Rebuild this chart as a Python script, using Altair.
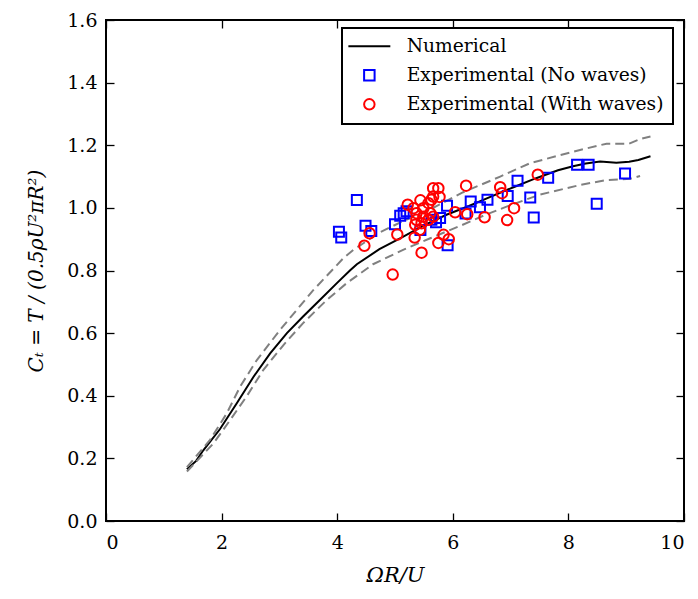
import altair as alt
import pandas as pd

# ---------------- data ----------------
num_x = [1.40, 1.56, 1.68, 1.97, 2.26, 2.55, 2.84, 3.13, 3.41, 3.70, 3.99, 4.22, 4.34,
         4.73, 5.12, 5.50, 5.89, 6.28, 6.66, 7.05, 7.43, 7.82, 8.08, 8.30, 8.55, 8.83,
         9.05, 9.21, 9.42]
num_y = [0.165, 0.192, 0.225, 0.293, 0.375, 0.460, 0.535, 0.600, 0.653, 0.706, 0.759, 0.800, 0.820,
         0.868, 0.906, 0.944, 0.978, 1.006, 1.036, 1.066, 1.094, 1.120, 1.133, 1.142, 1.148, 1.144,
         1.147, 1.153, 1.165]

up_x = [1.40, 1.80, 2.09, 2.32, 2.61, 3.01, 3.59, 4.11, 4.28, 4.74, 5.14, 5.61, 6.18, 6.82,
        7.34, 8.20, 8.66, 8.83, 9.05, 9.24, 9.42]
up_y = [0.172, 0.259, 0.344, 0.429, 0.514, 0.610, 0.738, 0.840, 0.866, 0.922, 0.958, 0.995, 1.050, 1.100,
        1.143, 1.185, 1.205, 1.205, 1.205, 1.220, 1.228]

lo_x = [1.40, 1.86, 2.15, 2.43, 2.72, 3.07, 3.41, 3.82, 4.16, 4.62, 5.14, 5.61, 6.12, 6.53,
        6.93, 7.50, 8.20, 8.66, 9.07, 9.24]
lo_y = [0.158, 0.248, 0.323, 0.397, 0.482, 0.562, 0.632, 0.706, 0.759, 0.820, 0.866, 0.903, 0.942, 0.975,
        1.004, 1.042, 1.073, 1.089, 1.093, 1.102]

nowave_x = [4.03, 4.07, 4.34, 4.49, 4.59, 5.00, 5.09, 5.15, 5.20, 5.44, 5.63, 5.71, 5.78, 5.90,
            5.91, 6.22, 6.31, 6.47, 6.60, 6.95, 7.12, 7.34, 7.40, 7.65, 8.15, 8.35, 8.49, 8.98]
nowave_y = [0.924, 0.905, 1.025, 0.943, 0.926, 0.948, 0.975, 0.983, 0.989, 0.929, 0.962, 0.954, 0.968, 1.007,
            0.881, 0.982, 1.020, 1.002, 1.026, 1.038, 1.087, 1.033, 0.969, 1.096, 1.138, 1.138, 1.013, 1.110]

wave_x = [4.47, 4.56, 4.96, 5.04, 5.22, 5.32, 5.34, 5.35, 5.37, 5.37, 5.44, 5.43, 5.46, 5.46,
          5.49, 5.49, 5.58, 5.58, 5.61, 5.63, 5.66, 5.66, 5.66, 5.75, 5.77, 5.75, 5.84, 5.93,
          6.04, 6.23, 6.25, 6.55, 6.82, 6.85, 6.94, 7.06, 7.47]
wave_y = [0.879, 0.919, 0.787, 0.915, 1.010, 0.999, 0.905, 0.946, 0.983, 0.962, 1.024, 0.930, 0.951, 0.857,
          0.999, 0.972, 1.015, 0.962, 0.983, 1.026, 1.063, 1.036, 0.972, 1.063, 1.035, 0.888, 0.914, 0.900,
          0.986, 1.071, 0.980, 0.970, 1.066, 1.047, 0.961, 0.999, 1.106]

series_names = ["Numerical", "Experimental (No waves)", "Experimental (With waves)"]
series_colors = ["#000000", "#0000ff", "#ff0000"]
# legend glyphs: a long horizontal stroke for the line, square and circle for the points
series_shapes = ["M-4,0L4,0", "square", "circle"]

x_ticks = [0, 2, 4, 6, 8, 10]
y_ticks = [0.0, 0.2, 0.4, 0.6, 0.8, 1.0, 1.2, 1.4, 1.6]

# ---------------- tables ----------------
num_df = pd.DataFrame({"x": num_x, "y": num_y, "series": series_names[0]})
band_df = pd.concat([
    pd.DataFrame({"x": up_x, "y": up_y, "band": "upper"}),
    pd.DataFrame({"x": lo_x, "y": lo_y, "band": "lower"}),
])
nowave_df = pd.DataFrame({"x": nowave_x, "y": nowave_y, "series": series_names[1]})
wave_df = pd.DataFrame({"x": wave_x, "y": wave_y, "series": series_names[2]})

FONT = "DejaVu Serif"
W, H = 578, 501

xs = alt.Scale(domain=[0, 10], nice=False, zero=False)
ys = alt.Scale(domain=[0, 1.6], nice=False, zero=False)
color_scale = alt.Scale(domain=series_names, range=series_colors)
shape_scale = alt.Scale(domain=series_names, range=series_shapes)

legend = alt.Legend(
    title=None, orient="none", legendX=236, legendY=8,
    labelFont=FONT, labelFontSize=18.7, labelColor="black", labelLimit=500,
    symbolStrokeWidth=2, symbolFillColor="transparent", symbolSize=110,
    symbolOffset=9, labelOffset=28,
    strokeColor="black", fillColor="white", cornerRadius=0,
    padding=9, rowPadding=9,
)

def tick_axis(orient, values):
    return alt.Axis(orient=orient, offset=-(H if orient in ("top", "bottom") else W),
                    values=values, labels=False, domain=False, grid=False,
                    ticks=True, tickSize=8, tickWidth=1.3, tickColor="black", title=None)

x_main = alt.Axis(orient="bottom", values=x_ticks, format="d", ticks=False, domain=False, grid=False,
                  labelFont=FONT, labelFontSize=19, labelColor="black", labelPadding=12,
                  title="ΩR/U", titleFont=FONT, titleFontSize=21, titleFontStyle="italic",
                  titleFontWeight="normal", titleColor="black", titlePadding=12)
y_main = alt.Axis(orient="left", values=y_ticks, format=".1f", ticks=False, domain=False, grid=False,
                  labelFont=FONT, labelFontSize=19, labelColor="black", labelPadding=9,
                  title="Cₜ = T / (0.5ρU²πR²)", titleFont=FONT, titleFontSize=20, titleFontStyle="italic",
                  titleFontWeight="normal", titleColor="black", titlePadding=20)

numerical = alt.Chart(num_df).mark_line(strokeWidth=2).encode(
    x=alt.X("x:Q", scale=xs, axis=x_main),
    y=alt.Y("y:Q", scale=ys, axis=y_main),
    color=alt.Color("series:N", scale=color_scale, legend=legend),
)

bands = alt.Chart(band_df).mark_line(strokeWidth=2, color="#808080", strokeDash=[9, 5]).encode(
    x=alt.X("x:Q", scale=xs, axis=tick_axis("top", x_ticks)),
    y=alt.Y("y:Q", scale=ys, axis=tick_axis("right", y_ticks)),
    detail="band:N",
)

nowave = alt.Chart(nowave_df).mark_point(filled=False, strokeWidth=2, opacity=1, size=100).encode(
    x=alt.X("x:Q", scale=xs, axis=tick_axis("bottom", x_ticks)),
    y=alt.Y("y:Q", scale=ys, axis=tick_axis("left", y_ticks)),
    color=alt.Color("series:N", scale=color_scale, legend=legend),
    shape=alt.Shape("series:N", scale=shape_scale, legend=legend),
)

wave = alt.Chart(wave_df).mark_point(filled=False, strokeWidth=2, opacity=1, size=110).encode(
    x=alt.X("x:Q", scale=xs, axis=None),
    y=alt.Y("y:Q", scale=ys, axis=None),
    color=alt.Color("series:N", scale=color_scale, legend=legend),
    shape=alt.Shape("series:N", scale=shape_scale, legend=legend),
)

chart = alt.layer(numerical, bands, nowave, wave).resolve_axis(
    x="independent", y="independent"
).properties(
    width=W, height=H,
    autosize=alt.AutoSizeParams(type="none"),
    padding={"left": 106, "top": 20, "right": 14, "bottom": 78},
    background="white",
).configure_view(
    stroke="black", strokeWidth=2
).configure_legend(
    strokeWidth=2
)

chart.save("out.html", embed_options={"renderer": "svg", "actions": False})
